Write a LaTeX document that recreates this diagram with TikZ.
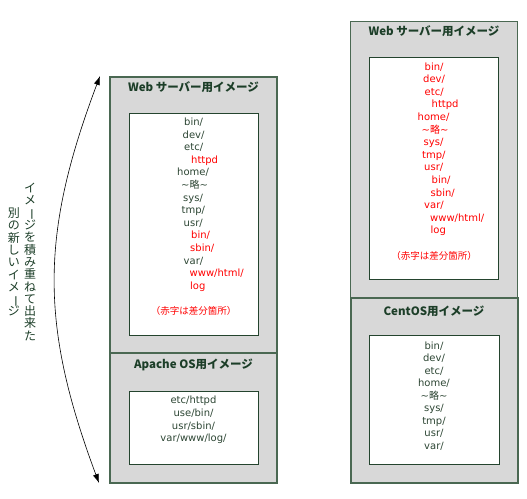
\documentclass[tikz,border=0pt]{standalone}
\usepackage{fontspec}
\setmainfont{DejaVu Sans}
\newfontfamily\jp{Noto Sans CJK JP}
\usetikzlibrary{arrows.meta, positioning}
\definecolor{boxgray}{RGB}{216,216,216}
\definecolor{boxline}{RGB}{74,104,82}
\definecolor{innerline}{RGB}{36,68,46}
\definecolor{titlegreen}{RGB}{28,62,40}
\definecolor{dirgreen}{RGB}{45,70,52}
\lineskiplimit=-20pt

\newcommand\vbar{\rotatebox[origin=c]{-90}{ー}}

\newcommand\webimage[1]{%
  \node[outer, minimum height=276] (#1out) at (193.5,215) {};
  \node[title] (#1title) at (193.5,87) {Web サーバー用イメージ};
  \node[inner, minimum height=222] (#1in) at (193.5,224) {};
  \foreach \s/\x/\t [count=\i] in {dir/184/{bin/}, dir/182.5/{dev/}, dir/184/{etc/},
      diff/191/{httpd}, dir/177/{home/}, dir/181/{\textasciitilde{\jp 略}\textasciitilde},
      dir/183/{sys/}, dir/181.5/{tmp/}, dir/183.5/{usr/}, diff/191/{bin/},
      diff/190/{sbin/}, dir/183.5/{var/}, diff/189.5/{www/html/}, diff/190/{log}}
    \node[\s] (#1\i) at (\x,{123+12.6*(\i-1)}) {\t};
  \node[note] (#1note) at (193.5,311) {（赤字は差分箇所）};
}

\begin{document}
\begin{tikzpicture}[x=1pt,y=-1pt,
    outer/.style={draw=boxline, fill=boxgray, line width=1.2pt, minimum width=167, inner sep=0pt},
    inner/.style={draw=innerline, fill=white, line width=0.9pt, minimum width=129, inner sep=0pt},
    title/.style={font=\jp\bfseries\fontsize{11.5}{13}\selectfont, text=titlegreen},
    line/.style={anchor=west, inner sep=0pt, text height=7.3pt, text depth=2.2pt,
      font=\fontsize{10}{12}\selectfont},
    dir/.style={line, text=dirgreen},
    diff/.style={line, text=red},
    note/.style={font=\jp\fontsize{9.5}{11}\selectfont, text=red},
    block/.style={align=center, inner sep=0pt, text=dirgreen},
    vtext/.style={align=center, inner sep=0pt, text=titlegreen,
      font=\jp\fontsize{12}{12.3}\selectfont},
    arr/.style={{Latex[length=9pt,width=6pt]}-{Latex[length=9pt,width=6pt]}, line width=0.6pt}]
  \useasboundingbox (0,0) rectangle (527,498);

  \webimage{l}
  \node[outer, minimum height=130] (apache) at (193.5,418) {};
  \node[title] (apachetitle) at (193.5,365) {Apache OS用イメージ};
  \node[inner, minimum height=73] (apachein) at (193.5,427.5) {};
  \node[block, font=\fontsize{10}{12.7}\selectfont] (apachedirs) at (193.5,420)
    {etc/httpd\\use/bin/\\usr/sbin/\\var/www/log/};

  \begin{scope}[shift={(240.5,-55.5)}, dir/.style={line, text=red}]
    \webimage{r}
  \end{scope}
  \node[outer, minimum height=185] (centos) at (434.5,390.5) {};
  \node[title] (centostitle) at (434,311) {CentOS用イメージ};
  \node[inner, minimum width=130, minimum height=129] (centosin) at (434,399.5) {};
  \node[block, font=\fontsize{10}{12.5}\selectfont] (centosdirs) at (434,396)
    {bin/\\dev/\\etc/\\home/\\\textasciitilde{\jp 略}\textasciitilde\\sys/\\tmp/\\usr/\\var/};

  \coordinate (arrtop) at (100,76);
  \coordinate (arrbot) at (99,483);
  \draw[arr] (arrtop) .. controls (40,235) and (40,325) .. (arrbot);
  \node[vtext] (capright) at (30,262)
    {イ\\メ\\{\vbar}\\ジ\\を\\積\\み\\重\\ね\\て\\出\\来\\た};
  \node[vtext] (capleft) at (14,262)
    {別\\の\\新\\し\\い\\イ\\メ\\{\vbar}\\ジ};
\end{tikzpicture}
\end{document}
